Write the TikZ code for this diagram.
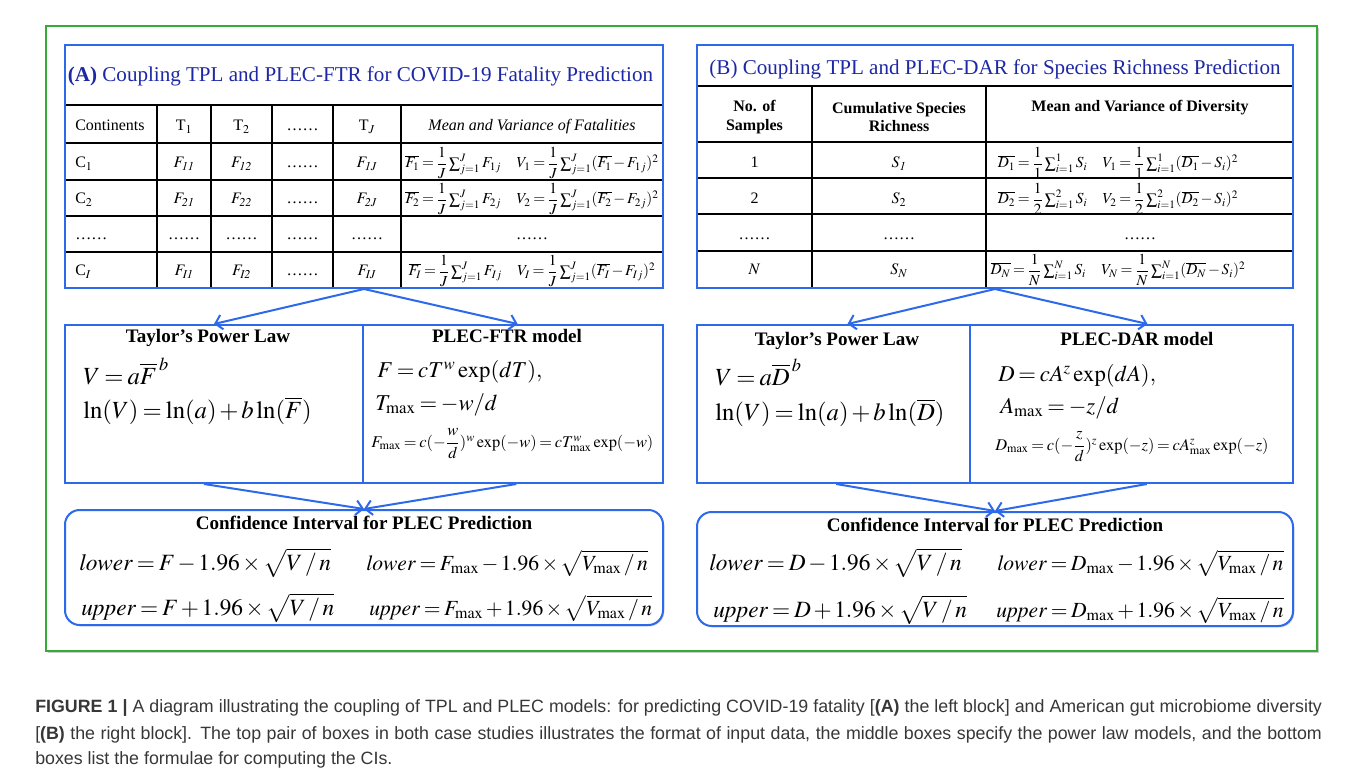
\documentclass[tikz,border=0pt]{standalone}
\usepackage{mathptmx}
\usepackage{fontspec}
\setmainfont{Liberation Serif}
\newfontfamily\capfont{Liberation Sans}
\usetikzlibrary{arrows.meta,fit,shadows}
\definecolor{boxblue}{RGB}{45,105,235}
\definecolor{titleblue}{RGB}{30,40,165}
\definecolor{framegreen}{RGB}{55,170,55}
\definecolor{captext}{RGB}{55,55,55}
\newcommand{\fsz}[2]{\fontsize{#1pt}{#2pt}\selectfont}
\newcommand{\fr}[2]{{\displaystyle\frac{#1}{#2}}}
\thickmuskip=3mu plus 1mu
\medmuskip=2mu plus 1mu minus 1mu
\begin{document}
\begin{tikzpicture}[x=0.75pt,y=-0.75pt,
  bluebox/.style={draw=boxblue,line width=1.5pt,inner sep=0pt,fill=white,
    drop shadow={shadow xshift=1pt,shadow yshift=-1pt,opacity=0.18,fill=black}},
  greenframe/.style={draw=framegreen,line width=1.5pt,inner sep=0pt,fill=white,
    drop shadow={shadow xshift=1.2pt,shadow yshift=-1.2pt,opacity=0.2,fill=black}},
  gridline/.style={draw=black,line width=1.1pt},
  arr/.style={draw=boxblue,line width=1.5pt,-{Straight Barb[length=5pt,width=11pt,line width=1.5pt]}},
  cell/.style={inner sep=0pt,anchor=base,font=\fsz{12}{14}},
  fcell/.style={inner sep=0pt,anchor=base,font=\fsz{11.5}{13}},
  head/.style={inner sep=0pt,anchor=base,font=\fsz{14.3}{17}\bfseries},
  ttl/.style={inner sep=0pt,anchor=base,font=\fsz{15.8}{19},text=titleblue},
  bigf/.style={inner sep=0pt,anchor=base west,font=\fsz{18.5}{22}},
  plf/.style={inner sep=0pt,anchor=base west,font=\fsz{17}{20}},
  midf/.style={inner sep=0pt,anchor=base west,font=\fsz{12.3}{15}},
  cif/.style={inner sep=0pt,anchor=base west,font=\fsz{17.5}{21}},
  cifr/.style={inner sep=0pt,anchor=base west,font=\fsz{16.2}{20}},
  captxt/.style={inner sep=0pt,anchor=base west,font=\capfont\fsz{13.35}{16},text=captext}
]
\useasboundingbox (0,0) rectangle (1357,777);
\fill[white] (0,0) rectangle (1357,777);

% outer green frame
\node[greenframe,fit={(46,26) (1317,651)}] (frame) {};

% ================= (A) =================
\node[bluebox,fit={(65,45) (663,288)}] (tabA) {};
\node[bluebox,fit={(65,325) (363,483)}] (tplA) {};
\node[bluebox,fit={(363,325) (663,483)}] (plecA) {};
\node[bluebox,rounded corners=11pt,fit={(65,510) (663,625)}] (ciA) {};

% grid A
\foreach \yy in {105,143,180,216,252} \draw[gridline] (65,\yy) -- (663,\yy);
\foreach \xx in {157,211,272,333,401} \draw[gridline] (\xx,105) -- (\xx,288);
\draw[draw=boxblue,line width=1.5pt] (65,45) rectangle (663,288);

\node[ttl] (titA) at (360.5,82) {\textbf{(A)} Coupling TPL and PLEC-FTR for COVID-19 Fatality Prediction};

\node[cell,anchor=base west] (hA0) at (75,131) {Continents};
\node[cell] (hA1) at (184,131) {T$_1$};
\node[cell] (hA2) at (241.5,131) {T$_2$};
\node[cell] (hA3) at (302.5,131) {……};
\node[cell] (hA4) at (367,131) {T$_{J}$};
\node[cell] (hA5) at (532,131) {\textit{Mean and Variance of Fatalities}};

\node[cell,anchor=base west] (a10) at (75,168) {C$_1$};
\node[cell] (a11) at (184,168) {$F_{\mathit{11}}$};
\node[cell] (a12) at (241.5,168) {$F_{\mathit{12}}$};
\node[cell] (a13) at (302.5,168) {……};
\node[cell] (a14) at (367,168) {$F_{\mathit{1J}}$};
\node[fcell] (a15) at (532,168) {$\overline{F_1}=\fr{1}{J}\sum_{j=1}^{J}F_{1j}\quad V_1=\fr{1}{J}\sum_{j=1}^{J}(\overline{F_1}-F_{1j})^2$};

\node[cell,anchor=base west] (a20) at (75,204) {C$_2$};
\node[cell] (a21) at (184,204) {$F_{\mathit{21}}$};
\node[cell] (a22) at (241.5,204) {$F_{\mathit{22}}$};
\node[cell] (a23) at (302.5,204) {……};
\node[cell] (a24) at (367,204) {$F_{\mathit{2J}}$};
\node[fcell] (a25) at (532,204) {$\overline{F_2}=\fr{1}{J}\sum_{j=1}^{J}F_{2j}\quad V_2=\fr{1}{J}\sum_{j=1}^{J}(\overline{F_2}-F_{2j})^2$};

\node[cell,anchor=base west] (a30) at (75,240) {……};
\node[cell] (a31) at (184,240) {……};
\node[cell] (a32) at (241.5,240) {……};
\node[cell] (a33) at (302.5,240) {……};
\node[cell] (a34) at (367,240) {……};
\node[cell] (a35) at (532,240) {……};

\node[cell,anchor=base west] (a40) at (75,276) {C$_{I}$};
\node[cell] (a41) at (184,276) {$F_{\mathit{I1}}$};
\node[cell] (a42) at (241.5,276) {$F_{\mathit{I2}}$};
\node[cell] (a43) at (302.5,276) {……};
\node[cell] (a44) at (367,276) {$F_{\mathit{IJ}}$};
\node[fcell] (a45) at (532,276) {$\overline{F_I}=\fr{1}{J}\sum_{j=1}^{J}F_{Ij}\quad V_I=\fr{1}{J}\sum_{j=1}^{J}(\overline{F_I}-F_{Ij})^2$};

% middle A
\node[head] (tplAt) at (208,343) {Taylor’s Power Law};
\node[head] (plecAt) at (507,343) {PLEC-FTR model};
\node[bigf] (tplA1) at (83,384) {$V = a\overline{F}^{\,b}$};
\node[bigf] (tplA2) at (83,418) {$\ln(V) = \ln(a) + b\ln(\overline{F})$};
\node[plf] (plecA1) at (377,378) {$F = cT^{w}\exp(dT),$};
\node[plf] (plecA2) at (375,410) {$T_{\max} = -w/d$};
\node[midf] (plecA3) at (371,447) {$F_{\max} = c(-\fr{w}{d})^{w}\exp(-w) = cT_{\max}^{w}\exp(-w)$};

% bottom A
\node[head] (ciAt) at (364,529) {Confidence Interval for PLEC Prediction};
\node[cif] (ciA1) at (79,570) {$\mathit{lower} = F - 1.96\times\sqrt{V\,/\,n}$};
\node[cifr] (ciA2) at (366,570) {$\mathit{lower} = F_{\max} - 1.96\times\sqrt{V_{\max}\,/\,n}$};
\node[cif] (ciA3) at (81,615) {$\mathit{upper} = F + 1.96\times\sqrt{V\,/\,n}$};
\node[cifr] (ciA4) at (369,615) {$\mathit{upper} = F_{\max} + 1.96\times\sqrt{V_{\max}\,/\,n}$};

% arrows A
\draw[arr] (tabA.south) -- (tplA.north);
\draw[arr] (tabA.south) -- ([xshift=3.5pt]plecA.north);
\draw[arr] ([xshift=-7.5pt]tplA.south) -- (ciA.north);
\draw[arr] ([xshift=2.5pt]plecA.south) -- (ciA.north);

% ================= (B) =================
\node[bluebox,fit={(697,45) (1293,288)}] (tabB) {};
\node[bluebox,fit={(697,325) (970,483)}] (tplB) {};
\node[bluebox,fit={(970,325) (1293,483)}] (plecB) {};
\node[bluebox,rounded corners=11pt,fit={(697,512) (1293,626)}] (ciB) {};

\foreach \yy in {86,142,178,214,251} \draw[gridline] (697,\yy) -- (1293,\yy);
\foreach \xx in {812,986} \draw[gridline] (\xx,86) -- (\xx,288);
\draw[draw=boxblue,line width=1.5pt] (697,45) rectangle (1293,288);

\node[ttl] (titB) at (995,75) {(B) Coupling TPL and PLEC-DAR for Species Richness Prediction};

\node[cell,anchor=center,align=center,font=\fsz{12}{14}\bfseries] (hB0) at (754.5,117) {No. of\\Samples};
\node[cell,anchor=center,align=center,font=\fsz{12}{14}\bfseries] (hB1) at (899,117) {Cumulative Species\\Richness};
\node[cell,font=\fsz{12}{14}\bfseries] (hB2) at (1140,112) {Mean and Variance of Diversity};

\node[cell] (b10) at (754.5,168) {1};
\node[cell] (b11) at (899,168) {$S_{\mathit{1}}$};
\node[fcell] (b12) at (1118,168) {$\overline{D_1}=\fr{1}{1}\sum_{i=1}^{1}S_i\quad V_1=\fr{1}{1}\sum_{i=1}^{1}(\overline{D_1}-S_i)^2$};
\node[cell] (b20) at (754.5,204) {2};
\node[cell] (b21) at (899,204) {$S_{2}$};
\node[fcell] (b22) at (1118,204) {$\overline{D_2}=\fr{1}{2}\sum_{i=1}^{2}S_i\quad V_2=\fr{1}{2}\sum_{i=1}^{2}(\overline{D_2}-S_i)^2$};
\node[cell] (b30) at (754.5,240) {……};
\node[cell] (b31) at (899,240) {……};
\node[cell] (b32) at (1140,240) {……};
\node[cell] (b40) at (754.5,275) {$N$};
\node[cell] (b41) at (899,275) {$S_{N}$};
\node[fcell] (b42) at (1118,275) {$\overline{D_N}=\fr{1}{N}\sum_{i=1}^{N}S_i\quad V_N=\fr{1}{N}\sum_{i=1}^{N}(\overline{D_N}-S_i)^2$};

% middle B
\node[head] (tplBt) at (837,345) {Taylor’s Power Law};
\node[head] (plecBt) at (1137,345) {PLEC-DAR model};
\node[bigf] (tplB1) at (715,385) {$V = a\overline{D}^{\,b}$};
\node[bigf] (tplB2) at (715,420) {$\ln(V) = \ln(a) + b\ln(\overline{D})$};
\node[plf] (plecB1) at (998,382) {$D = cA^{z}\exp(dA),$};
\node[plf] (plecB2) at (1000,413) {$A_{\max} = -z/d$};
\node[midf] (plecB3) at (995,450) {$D_{\max} = c(-\fr{z}{d})^{z}\exp(-z) = cA_{\max}^{z}\exp(-z)$};

% bottom B
\node[head] (ciBt) at (995,531) {Confidence Interval for PLEC Prediction};
\node[cif] (ciB1) at (709,570) {$\mathit{lower} = D - 1.96\times\sqrt{V\,/\,n}$};
\node[cifr] (ciB2) at (997,570) {$\mathit{lower} = D_{\max} - 1.96\times\sqrt{V_{\max}\,/\,n}$};
\node[cif] (ciB3) at (713,617) {$\mathit{upper} = D + 1.96\times\sqrt{V\,/\,n}$};
\node[cifr] (ciB4) at (996,617) {$\mathit{upper} = D_{\max} + 1.96\times\sqrt{V_{\max}\,/\,n}$};

% arrows B
\draw[arr] (tabB.south) -- ([xshift=10.5pt]tplB.north);
\draw[arr] (tabB.south) -- ([xshift=12pt]plecB.north);
\draw[arr] ([xshift=2pt]tplB.south) -- (ciB.north);
\draw[arr] ([xshift=11.5pt]plecB.south) -- (ciB.north);

% caption
\node[captxt] (cap1) at (35,712) {\makebox[965pt][s]{\textbf{FIGURE 1 |} A diagram illustrating the coupling of TPL and PLEC models: for predicting COVID-19 fatality [\textbf{(A)} the left block] and American gut microbiome diversity}};
\node[captxt] (cap2) at (35,739) {\makebox[965pt][s]{[\textbf{(B)} the right block]. The top pair of boxes in both case studies illustrates the format of input data, the middle boxes specify the power law models, and the bottom}};
\node[captxt] (cap3) at (35,764) {boxes list the formulae for computing the CIs.};
\end{tikzpicture}
\end{document}
